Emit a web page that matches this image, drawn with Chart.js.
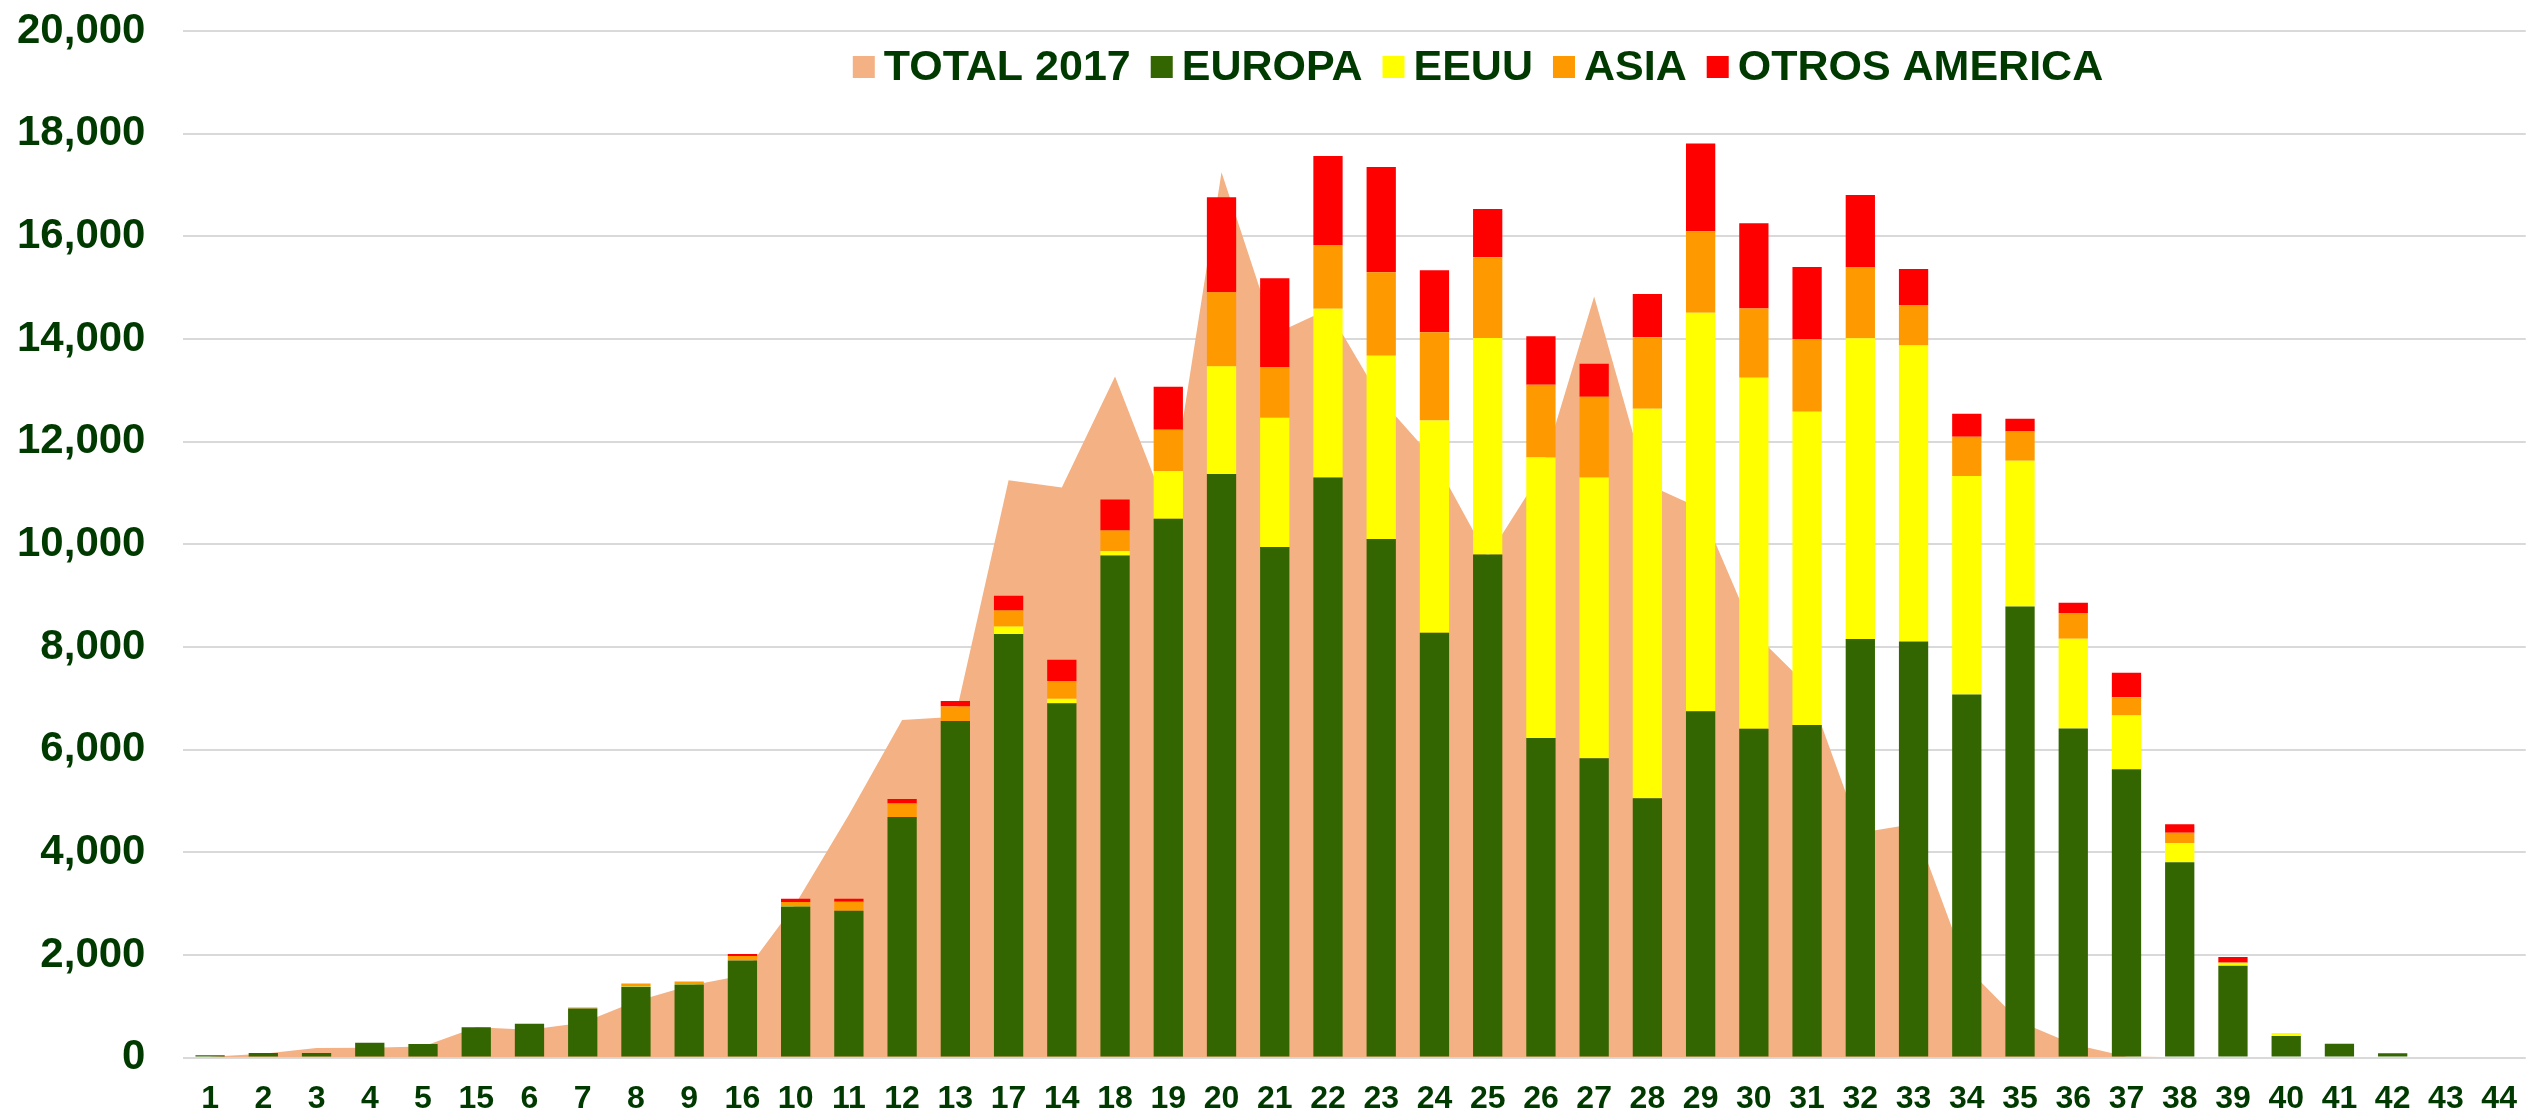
<!DOCTYPE html>
<html>
<head>
<meta charset="utf-8">
<script src="https://cdn.jsdelivr.net/npm/chart.js@4.4.1/dist/chart.umd.min.js"></script>
<style>
  html, body { margin: 0; padding: 0; background: #ffffff; overflow: hidden; }
  #wrap { width: 2539px; height: 1112px; position: relative; overflow: hidden; }
  #c { position: absolute; left: -40px; top: -32px; }
</style>
</head>
<body>
<div id="wrap"><canvas id="c" width="2579" height="1172"></canvas></div>
<script>
// ---- data ----
const categories = ["1","2","3","4","5","15","6","7","8","9","16","10","11","12","13","17","14","18","19","20","21","22","23","24","25","26","27","28","29","30","31","32","33","34","35","36","37","38","39","40","41","42","43","44"];

const total2017 = [15,75,185,190,215,590,545,680,1100,1400,1600,3000,4730,6576,6640,11250,11110,13270,10600,17250,14100,14580,12820,11650,9750,11390,14830,11170,10700,8280,7250,4380,4550,1750,700,260,20,5,0,0,0,0,0,0];

const europa = [45,90,90,290,265,590,660,955,1380,1425,1890,2945,2860,4690,6560,8255,6905,9785,10500,11370,9950,11305,10105,8280,9805,6230,5835,5055,6750,6410,6480,8155,8110,7075,8790,6415,5620,3805,1790,420,270,85,0,0];

const eeuu = [0,0,0,0,0,0,0,0,10,10,0,10,0,0,0,145,85,85,930,2100,2520,3285,3570,4135,4215,5465,5470,7590,7765,6835,6105,5860,5765,4260,2840,1745,1045,370,50,60,0,0,0,0];

const asia = [0,0,0,0,0,0,0,20,55,50,90,75,175,260,280,310,350,400,805,1445,985,1245,1630,1720,1575,1415,1570,1390,1585,1350,1415,1390,790,765,570,505,355,205,15,0,0,0,0,0];

const otrosAmerica = [0,0,0,0,0,0,0,0,0,0,40,65,60,90,110,290,410,605,835,1850,1730,1735,2050,1205,940,945,645,845,1710,1665,1405,1405,700,445,250,200,480,165,105,0,0,0,0,0];

const seriesNames = ["TOTAL 2017", "EUROPA", "EEUU", "ASIA", "OTROS AMERICA"];
const seriesColors = ["#F4B183", "#336600", "#FFFF00", "#FF9900", "#FF0000"];
const yTicks = [0,2000,4000,6000,8000,10000,12000,14000,16000,18000,20000];

// ---- styles ----
const FONT = "'Liberation Sans', Arial, sans-serif";
const TEXT = "#003A00";
const OFFX = 40, OFFY = 32; // canvas offset inside the page

const customLegend = {
  id: 'customLegend',
  afterDraw(chart) {
    const ctx = chart.ctx;
    const fontSize = 43, box = 22, gapText = 9, gapItem = 20;
    ctx.save();
    ctx.font = "bold " + fontSize + "px " + FONT;
    const items = chart.data.datasets.map(d => ({ text: d.label, color: d.backgroundColor }));
    let totalW = 0;
    items.forEach((it, i) => {
      it.w = ctx.measureText(it.text).width;
      totalW += box + gapText + it.w + (i < items.length - 1 ? gapItem : 0);
    });
    const centerX = 1478 + OFFX;
    const boxTop = 56 + OFFY;
    const baseY = 80 + OFFY;
    let x = centerX - totalW / 2;
    items.forEach(it => {
      ctx.fillStyle = it.color;
      ctx.fillRect(x, boxTop, box, box);
      x += box + gapText;
      ctx.fillStyle = TEXT;
      ctx.textBaseline = 'alphabetic';
      ctx.textAlign = 'left';
      ctx.fillText(it.text, x, baseY);
      x += it.w + gapItem;
    });
    ctx.restore();
  }
};

const barSeries = [europa, eeuu, asia, otrosAmerica];

const datasets = [{
  type: 'line',
  label: seriesNames[0],
  data: total2017,
  backgroundColor: seriesColors[0],
  borderColor: seriesColors[0],
  borderWidth: 0,
  pointRadius: 0,
  pointHoverRadius: 0,
  tension: 0,
  fill: 'origin',
  stack: 'total',
  order: 2
}];
barSeries.forEach((arr, i) => {
  datasets.push({
    type: 'bar',
    label: seriesNames[i + 1],
    data: arr,
    backgroundColor: seriesColors[i + 1],
    borderWidth: 0,
    stack: 'regions',
    order: 1,
    barPercentage: 0.55,
    categoryPercentage: 1.0
  });
});

new Chart(document.getElementById('c'), {
  data: { labels: categories, datasets: datasets },
  options: {
    responsive: false,
    devicePixelRatio: 1,
    animation: false,
    events: [],
    layout: { padding: { left: 19, right: 6, top: 29, bottom: 0 } },
    plugins: {
      legend: { display: false },
      tooltip: { enabled: false },
      title: { display: false }
    },
    scales: {
      x: {
        stacked: true,
        grid: { display: false, drawTicks: false },
        border: { display: false },
        ticks: {
          autoSkip: false,
          maxRotation: 0,
          padding: 22,
          color: TEXT,
          font: { family: FONT, size: 32, weight: 'bold' }
        }
      },
      y: {
        stacked: true,
        min: 0,
        max: 20000,
        afterBuildTicks(scale) { scale.ticks = yTicks.map(v => ({ value: v })); },
        grid: { color: '#D9D9D9', lineWidth: 2, drawTicks: false },
        border: { display: false },
        ticks: {
          padding: 38,
          color: TEXT,
          font: { family: FONT, size: 42, weight: 'bold' },
          callback: v => Number(v).toLocaleString('en-US')
        }
      }
    }
  },
  plugins: [customLegend]
});
</script>
</body>
</html>
